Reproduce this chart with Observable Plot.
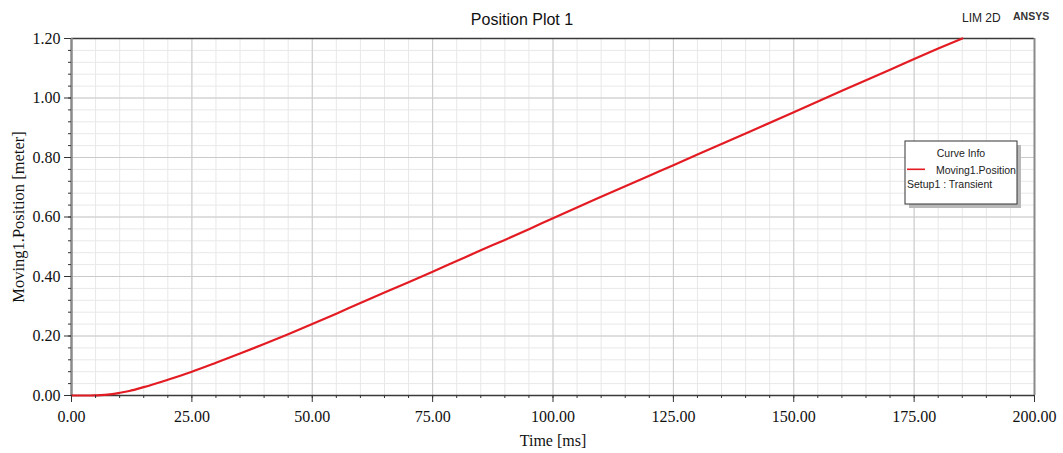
<!DOCTYPE html>
<html>
<head>
<meta charset="utf-8">
<script src="https://cdn.jsdelivr.net/npm/d3@7"></script>
<script src="https://cdn.jsdelivr.net/npm/@observablehq/plot@0.6"></script>
<style>
  body { margin: 0; background: #fff; }
  #chart svg { display: block; }
</style>
</head>
<body>
<div id="chart"></div>
<script>
// ---- Data (Time in ms, Position in meter) ----
const timeMs = [0, 2, 4, 5, 6, 8, 10, 12, 15, 20, 25, 30, 35, 40, 45, 50, 55, 60, 65, 70, 75, 80, 85, 90, 95, 100, 110, 120, 125, 130, 140, 150, 160, 170, 175, 180, 185];
const positionM = [0, 0, 0, 0.0005, 0.001, 0.004, 0.009, 0.015, 0.028, 0.053, 0.080, 0.110, 0.141, 0.173, 0.206, 0.240, 0.275, 0.311, 0.346, 0.381, 0.416, 0.452, 0.488, 0.523, 0.559, 0.596, 0.668, 0.739, 0.774, 0.810, 0.881, 0.952, 1.024, 1.095, 1.131, 1.166, 1.200];

const xTicks = [0, 25, 50, 75, 100, 125, 150, 175, 200];
const yTicks = [0, 0.2, 0.4, 0.6, 0.8, 1.0, 1.2];
const xMinorTicks = d3.range(0, 41).map(i => i * 5);
const yMinorTicks = d3.range(0, 31).map(i => +(i * 0.04).toFixed(2));

const titleText = "Position Plot 1";
const xLabel = "Time [ms]";
const yLabel = "Moving1.Position [meter]";
const seriesName = "Moving1.Position";
const setupName = "Setup1 : Transient";
const legendTitle = "Curve Info";

const data = timeMs.map((t, i) => ({t, p: positionM[i]}));

const serif = "'Liberation Serif', 'Times New Roman', serif";
const sans = "'Liberation Sans', Arial, sans-serif";
const lineColor = "#e31b23";

const plot = Plot.plot({
  width: 1063,
  height: 453,
  marginLeft: 71,
  marginRight: 29,
  marginTop: 38,
  marginBottom: 58,
  style: {background: "#fff", fontFamily: serif, fontSize: "16px", color: "#111"},
  x: {domain: [0, 200], label: null},
  y: {domain: [0, 1.2], label: null},
  marks: [
    // grid
    Plot.ruleX(xMinorTicks, {stroke: "#e8e8e8", strokeWidth: 1}),
    Plot.ruleY(yMinorTicks, {stroke: "#e8e8e8", strokeWidth: 1}),
    Plot.ruleX(xTicks, {stroke: "#cacaca", strokeWidth: 1}),
    Plot.ruleY(yTicks, {stroke: "#cacaca", strokeWidth: 1}),
    // frame edges
    Plot.ruleY([1.2], {stroke: "#3a3a3a", strokeWidth: 1.5}),
    Plot.ruleX([200], {stroke: "#8a8a8a", strokeWidth: 2}),
    Plot.ruleX([0], {stroke: "#8a8a8a", strokeWidth: 2.5}),
    Plot.ruleY([0], {stroke: "#3a3a3a", strokeWidth: 1.5}),
    // curve
    Plot.line(data, {x: "t", y: "p", stroke: lineColor, strokeWidth: 2.2, curve: "monotone-x"}),
    // axes
    Plot.axisX(xMinorTicks, {tickSize: 3, tickFormat: () => "", stroke: "#333", label: null}),
    Plot.axisY(yMinorTicks, {tickSize: 3, tickFormat: () => "", stroke: "#333", label: null}),
    Plot.axisX(xTicks, {tickSize: 7, tickPadding: 8, tickFormat: d => d.toFixed(2), stroke: "#333", fill: "#111", fontSize: 16, fontFamily: serif, label: null}),
    Plot.axisY(yTicks, {tickSize: 7, tickPadding: 4, tickFormat: d => d.toFixed(2), stroke: "#333", fill: "#111", fontSize: 16, fontFamily: serif, label: null}),
    // axis labels
    Plot.text([xLabel], {frameAnchor: "bottom", dy: 45, lineAnchor: "middle", textAnchor: "middle", fontSize: 16, fontFamily: serif, fill: "#111"}),
    Plot.text([yLabel], {frameAnchor: "left", dx: -53, rotate: -90, lineAnchor: "middle", textAnchor: "middle", fontSize: 16.5, fontFamily: serif, fill: "#111"})
  ]
});

document.getElementById("chart").appendChild(plot);

// ---- Title, product tags and legend box (overlay text) ----
const svg = d3.select(plot);
svg.append("text")
  .attr("x", 522).attr("y", 19).attr("dy", "0.35em")
  .attr("text-anchor", "middle")
  .attr("font-family", sans).attr("font-size", 16).attr("fill", "#111")
  .text(titleText);
svg.append("text")
  .attr("x", 962).attr("y", 18).attr("dy", "0.35em")
  .attr("text-anchor", "start")
  .attr("font-family", sans).attr("font-size", 12).attr("fill", "#222")
  .text("LIM 2D");
svg.append("text")
  .attr("x", 1013).attr("y", 16).attr("dy", "0.35em")
  .attr("text-anchor", "start")
  .attr("font-family", sans).attr("font-size", 10.5).attr("font-weight", "bold").attr("fill", "#333")
  .text("ANSYS");

const lg = svg.append("g").attr("transform", "translate(905,141)");
lg.append("rect").attr("x", 4).attr("y", 4).attr("width", 112).attr("height", 63)
  .attr("fill", "#b8b8b8");
lg.append("rect").attr("x", 0).attr("y", 0).attr("width", 112).attr("height", 63)
  .attr("fill", "#fff").attr("stroke", "#333").attr("stroke-width", 1);
lg.append("text").attr("x", 56).attr("y", 12).attr("dy", "0.35em")
  .attr("text-anchor", "middle").attr("font-family", sans).attr("font-size", 10.5).attr("fill", "#222")
  .text(legendTitle);
lg.append("rect").attr("x", 2).attr("y", 27.5).attr("width", 18).attr("height", 1.6)
  .attr("fill", lineColor);
lg.append("text").attr("x", 31).attr("y", 29).attr("dy", "0.35em")
  .attr("text-anchor", "start")
  .attr("font-family", sans).attr("font-size", 10.5).attr("fill", "#222")
  .text(seriesName);
lg.append("text").attr("x", 2).attr("y", 43).attr("dy", "0.35em")
  .attr("text-anchor", "start")
  .attr("font-family", sans).attr("font-size", 10.5).attr("fill", "#222")
  .text(setupName);
</script>
</body>
</html>
